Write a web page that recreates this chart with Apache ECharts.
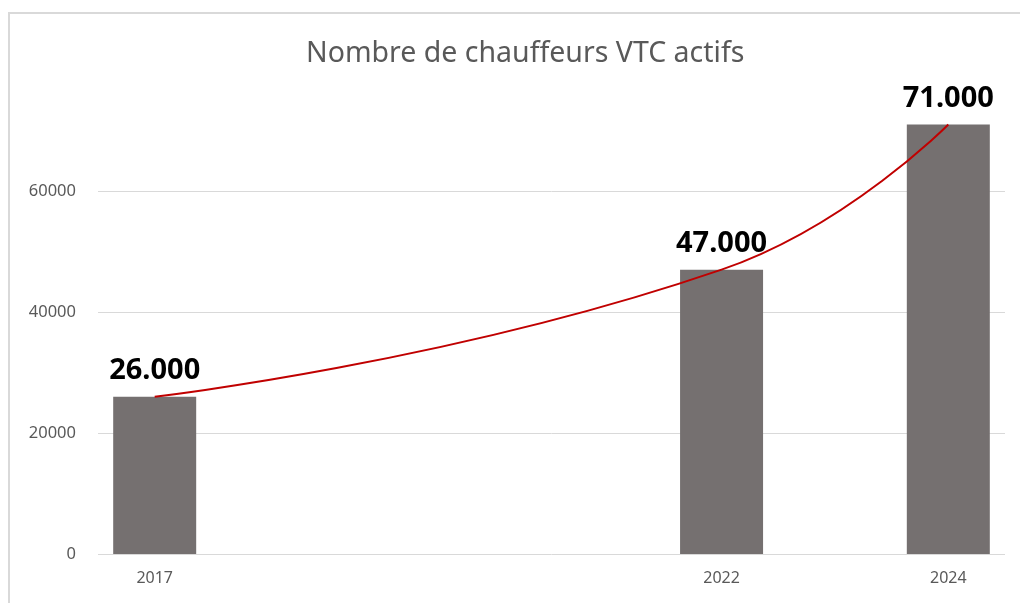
<!DOCTYPE html>
<html>
<head>
<meta charset="utf-8">
<script src="https://cdn.jsdelivr.net/npm/echarts@6/dist/echarts.min.js"></script>
<style>
  html, body { margin: 0; padding: 0; background: #fff; }
  #main { width: 1020px; height: 603px; }
</style>
</head>
<body>
<div id="main"></div>
<script>
// values
var years = [2017, 2022, 2024];
var drivers = [26000, 47000, 71000];
var yearLabels = [2017, 2022, 2024];

var chart = echarts.init(document.getElementById('main'));

var barData = years.map(function (y, i) { return [y, drivers[i]]; });

chart.setOption({
  animation: false,
  textStyle: { fontFamily: 'Noto Sans' },
  title: {
    text: 'Nombre de chauffeurs VTC actifs',
    left: 301,
    top: 34,
    textStyle: { fontSize: 28.5, fontWeight: 'normal', color: '#595959', fontFamily: 'Noto Sans' }
  },
  graphic: [{
    type: 'rect',
    shape: { x: 9, y: 13, width: 1100, height: 700 },
    style: { fill: 'none', stroke: '#d9d9d9', lineWidth: 2 },
    silent: true
  }],
  grid: { left: 98, right: 15, top: 70, bottom: 49 },
  xAxis: {
    type: 'value',
    min: 2016.5,
    max: 2024.5,
    axisLine: { show: false },
    axisTick: { show: false },
    splitLine: { show: false },
    axisLabel: {
      customValues: yearLabels,
      formatter: function (v) { return String(v); },
      color: '#595959',
      fontSize: 16,
      margin: 16
    }
  },
  yAxis: {
    type: 'value',
    min: 0,
    max: 80000,
    interval: 20000,
    axisLine: { show: false },
    axisTick: { show: false },
    axisLabel: {
      color: '#595959',
      fontSize: 16.5,
      margin: 22,
      showMaxLabel: false,
      formatter: function (v) { return String(v); }
    },
    splitLine: {
      lineStyle: { color: ['#d9d9d9', '#d9d9d9', '#d9d9d9', '#d9d9d9', 'rgba(0,0,0,0)'], width: 1 }
    }
  },
  series: [
    {
      type: 'bar',
      data: barData,
      barWidth: 83,
      itemStyle: { color: '#757070' },
      label: {
        show: true,
        position: 'top',
        distance: 11,
        fontSize: 29,
        fontWeight: 'bold',
        color: '#000',
        fontFamily: 'Noto Sans',
        formatter: function (p) {
          return String(p.value[1]).replace(/(\d)(?=(\d{3})+$)/g, '$1.');
        }
      }
    },
    {
      type: 'line',
      data: barData,
      smooth: 0.5,
      symbol: 'none',
      lineStyle: { color: '#c00000', width: 2 },
      z: 5
    }
  ]
});
</script>
</body>
</html>
